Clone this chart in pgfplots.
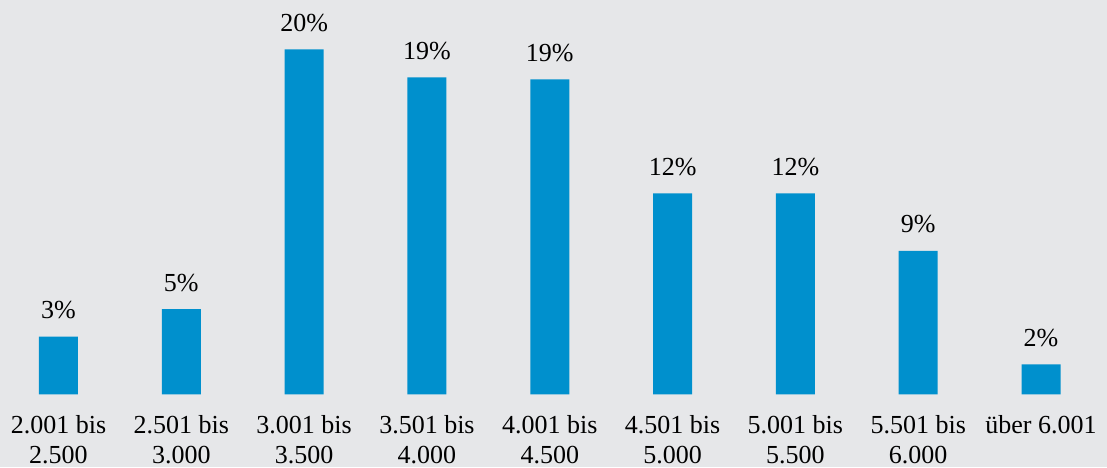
\documentclass[border=0pt]{standalone}
\usepackage{fontspec}
\setmainfont{Liberation Serif}
\usepackage{pgfplots}
\pgfplotsset{compat=1.18}
\definecolor{bgc}{HTML}{E6E7E9}
\definecolor{barc}{HTML}{0090CD}
\begin{document}
\begin{tikzpicture}
\fill[bgc] (0,0) rectangle (553.5pt,-233.5pt);
\begin{axis}[
  at={(0,0)}, anchor=north west,
  scale only axis, width=553.5pt, height=197.15pt,
  xmin=-0.476, xmax=8.537, ymin=0, ymax=22.86,
  axis lines=none, clip=false,
  xtick=data, ytick=\empty,
  font=\fontsize{13}{15}\selectfont,
  nodes near coords,
  point meta=explicit symbolic,
  nodes near coords style={anchor=base, inner sep=0pt, yshift=9pt, text=black},
]
\addplot[ybar, bar width=19.5pt, fill=barc, draw=none]
  table[meta=lab] {
    x  y      lab
    0  3.34   3\%
    1  4.94   5\%
    2  20.0   20\%
    3  18.38  19\%
    4  18.26  19\%
    5  11.65  12\%
    6  11.65  12\%
    7  8.32   9\%
    8  1.74   2\%
  };
\pgfplotsset{every axis/.append style={}}
\end{axis}
\begin{axis}[
  at={(0,0)}, anchor=north west,
  scale only axis, width=553.5pt, height=197.15pt,
  xmin=-0.476, xmax=8.537, ymin=0, ymax=22.86,
  hide y axis, axis x line*=bottom, x axis line style={draw=none},
  major tick length=0pt, ytick=\empty,
  xtick={0,...,8},
  xticklabels={{2.001 bis\\2.500},{2.501 bis\\3.000},{3.001 bis\\3.500},{3.501 bis\\4.000},{4.001 bis\\4.500},{4.501 bis\\5.000},{5.001 bis\\5.500},{5.501 bis\\6.000},{über 6.001}},
  xticklabel style={align=center, anchor=north, inner sep=0pt, yshift=-10.6pt, font=\fontsize{13}{15}\selectfont},
]
\end{axis}
\end{tikzpicture}
\end{document}
